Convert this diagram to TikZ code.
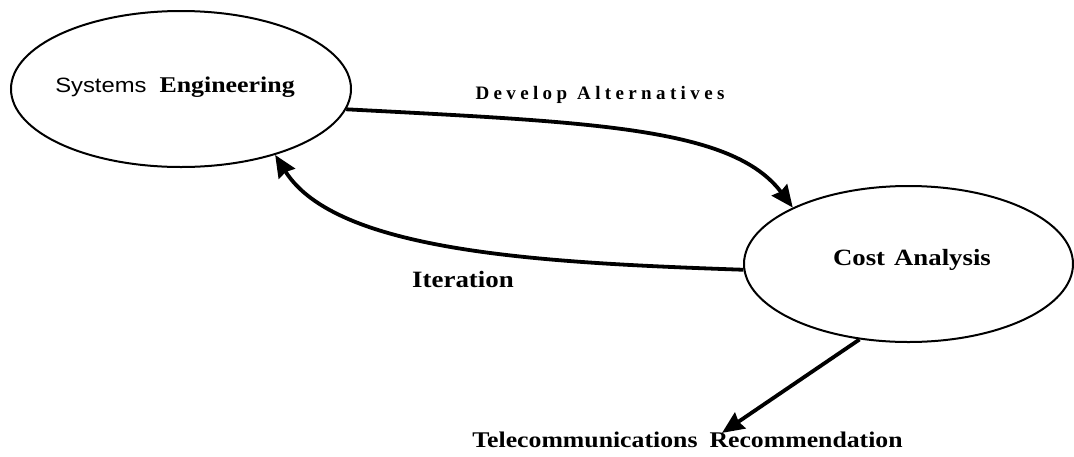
\documentclass[tikz,border=0pt]{standalone}
\usepackage{fontspec}
\setmainfont{Liberation Serif}
\newfontfamily\wideserif[FakeStretch=1.15]{Liberation Serif}
\newfontfamily\widesans[FakeStretch=1.15]{Liberation Sans}
\newfontfamily\spacedserif[LetterSpace=23]{Liberation Serif}
\usetikzlibrary{shapes.geometric,arrows.meta,calc}

\begin{document}
\begin{tikzpicture}[x=1pt,y=1pt,
  bubble/.style={draw, ellipse, line width=2pt, inner sep=0pt},
  flow/.style={line width=3.8pt, -{Stealth[length=22pt,width=19pt,inset=2pt]}},
  caption/.style={inner sep=0pt, text height=.68em, text depth=0pt}]

  \useasboundingbox (0,0) rectangle (1074,-456);

  % the two process bubbles
  \node[bubble, minimum width=340, minimum height=156] (se) at (181,-89) {};
  \node[bubble, minimum width=329, minimum height=156] (ca) at (908.5,-264) {};

  % bubble texts
  \node[caption] (setext) at (175,-89.5)
    {{\widesans\fontsize{20.7}{25}\selectfont Systems}\hspace{13pt}{\wideserif\bfseries\fontsize{22.5}{27}\selectfont Engineering}};
  \node[caption, font={\wideserif\bfseries\fontsize{23.3}{28}\selectfont}] (catext) at (912,-262.5)
    {Cost\hspace{9pt}Analysis};

  % connector labels
  \node[caption, font={\spacedserif\bfseries\fontsize{19}{23}\selectfont}] (devlabel) at (600,-96)
    {Develop\hspace{10pt}Alternatives};
  \node[caption, font={\wideserif\bfseries\fontsize{23.4}{28}\selectfont}] (itlabel) at (463,-284)
    {Iteration};
  \node[caption, font={\wideserif\bfseries\fontsize{22.4}{27}\selectfont}] (rec) at (687.5,-444.5)
    {Telecommunications\hspace{12pt}Recommendation};

  % connectors
  \draw[flow] (se.-7) .. controls +(-3:250) and +(127:100) .. (ca.154);
  \draw[flow] (ca.182) .. controls +(178:200) and +(-58:115) .. (se.-35);
  \draw[flow] (ca.237.6) -- ($(rec.north)+(34.5,8)$);
\end{tikzpicture}
\end{document}
